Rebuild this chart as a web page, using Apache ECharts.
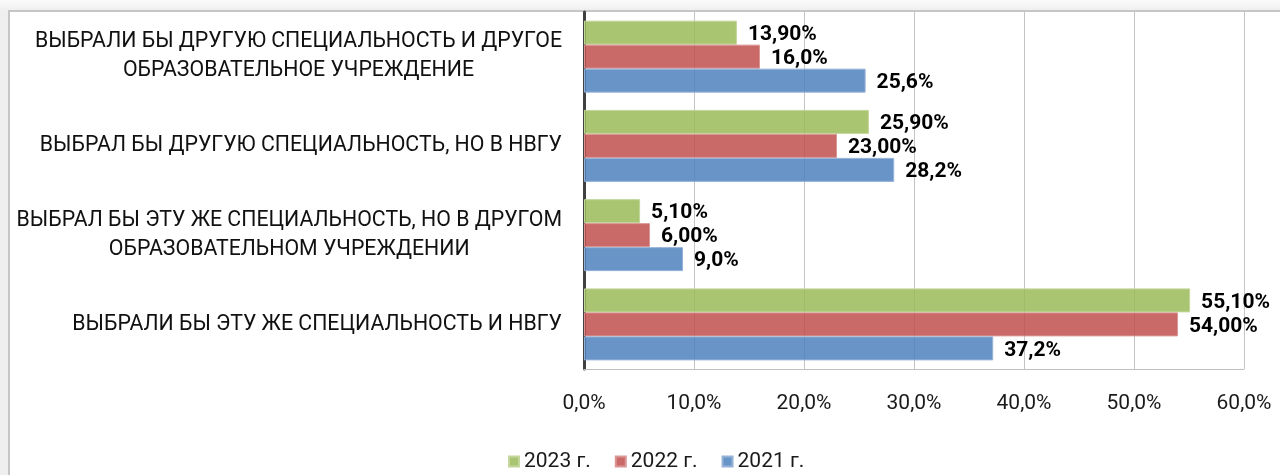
<!DOCTYPE html>
<html>
<head>
<meta charset="utf-8">
<script src="https://cdn.jsdelivr.net/npm/echarts@6/dist/echarts.min.js"></script>
<style>
  html, body { margin: 0; padding: 0; }
  body { width: 1280px; height: 475px; background: linear-gradient(#fbfbfb, #efefef 10px); position: relative; overflow: hidden; }
  #frame { position: absolute; left: 8px; top: 10px; right: 0; bottom: 0; background: #fff; border-left: 2px solid #c6c6c6; border-top: 2px solid #c6c6c6; }
  #chart { position: absolute; left: 0; top: 0; width: 1280px; height: 475px; }
</style>
</head>
<body>
<div id="frame"></div>
<div id="chart"></div>
<script>
const categories = [
  'ВЫБРАЛИ БЫ ДРУГУЮ СПЕЦИАЛЬНОСТЬ И ДРУГОЕ\nОБРАЗОВАТЕЛЬНОЕ УЧРЕЖДЕНИЕ',
  'ВЫБРАЛ БЫ ДРУГУЮ СПЕЦИАЛЬНОСТЬ, НО В НВГУ',
  'ВЫБРАЛ БЫ ЭТУ ЖЕ СПЕЦИАЛЬНОСТЬ, НО В ДРУГОМ\nОБРАЗОВАТЕЛЬНОМ УЧРЕЖДЕНИИ',
  'ВЫБРАЛИ БЫ ЭТУ ЖЕ СПЕЦИАЛЬНОСТЬ И НВГУ'
];
const seriesNames = ['2023 г.', '2022 г.', '2021 г.'];
const values2023 = [13.9, 25.9, 5.1, 55.1];
const values2022 = [16.0, 23.0, 6.0, 54.0];
const values2021 = [25.6, 28.2, 9.0, 37.2];
const labels2023 = ['13,90%', '25,90%', '5,10%', '55,10%'];
const labels2022 = ['16,0%', '23,00%', '6,00%', '54,00%'];
const labels2021 = ['25,6%', '28,2%', '9,0%', '37,2%'];

// semi-transparent fills so the grid lines show through the bars
const colors = ['rgba(155,187,89,0.85)', 'rgba(192,80,77,0.85)', 'rgba(79,129,189,0.85)'];
const borders = ['#c3d69b', '#d99694', '#95b3d7'];
const FONT = 'Roboto';

function makeSeries(i, values, labels) {
  return {
    name: seriesNames[i],
    type: 'bar',
    barWidth: 24,
    barGap: '0%',
    data: values,
    itemStyle: { color: colors[i], borderColor: borders[i], borderWidth: 1 },
    label: {
      show: true,
      position: 'right',
      distance: 11,
      offset: [0, 2],
      fontFamily: FONT,
      fontSize: 21,
      fontWeight: 'bold',
      color: '#000',
      formatter: p => labels[p.dataIndex]
    },
    z: 3
  };
}

const chart = echarts.init(document.getElementById('chart'), null, { renderer: 'canvas' });
chart.setOption({
  backgroundColor: 'transparent',
  animation: false,
  textStyle: { fontFamily: FONT },
  grid: { left: 584, right: 36, top: 12, bottom: 106 },
  legend: {
    data: seriesNames,
    left: 503,
    top: 446,
    itemWidth: 10,
    itemHeight: 10,
    itemGap: 24,
    icon: 'rect',
    textStyle: { fontFamily: FONT, fontSize: 21, color: '#1a1a1a' }
  },
  xAxis: {
    type: 'value',
    min: 0,
    max: 60,
    interval: 10,
    axisLine: { show: true, lineStyle: { color: '#bfbfbf', width: 1 } },
    axisTick: { show: false },
    splitLine: { lineStyle: { color: '#c4c4c4', width: 1 } },
    axisLabel: {
      margin: 24,
      fontFamily: FONT,
      fontSize: 21,
      color: '#1a1a1a',
      formatter: v => v.toFixed(1).replace('.', ',') + '%'
    }
  },
  yAxis: {
    type: 'category',
    inverse: true,
    data: categories,
    axisLine: { show: true, lineStyle: { color: '#404040', width: 3 } },
    axisTick: { show: false },
    axisLabel: {
      margin: 22,
      align: 'right',
      fontFamily: FONT,
      fontSize: 21.3,
      color: '#111',
      lineHeight: 29,
      formatter: v => v.split('\n').map(s => '{c|' + s + '}').join('\n'),
      rich: { c: { align: 'center', fontFamily: FONT, fontSize: 21.3, lineHeight: 29, color: '#111' } }
    }
  },
  series: [
    makeSeries(0, values2023, labels2023),
    makeSeries(1, values2022, labels2022),
    makeSeries(2, values2021, labels2021)
  ]
});
</script>
</body>
</html>
